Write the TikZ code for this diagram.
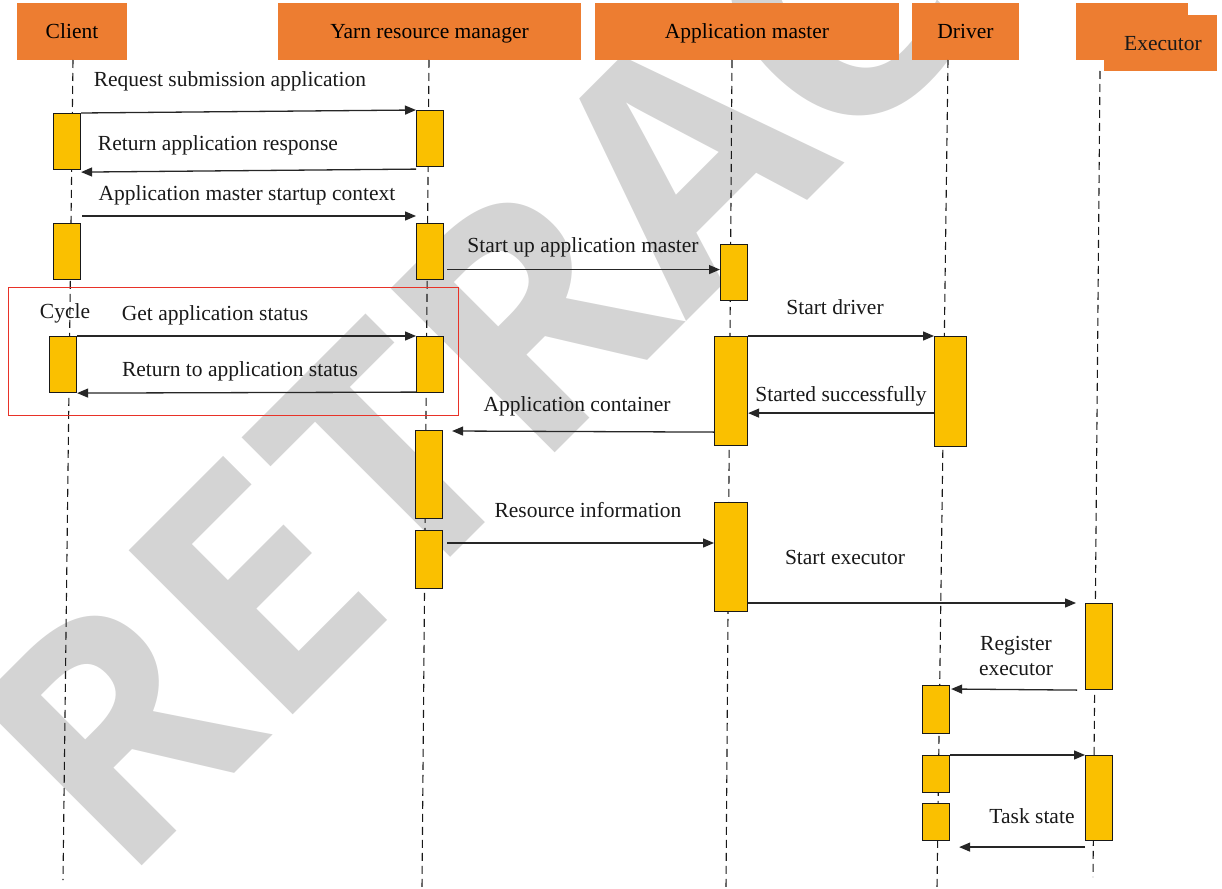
\documentclass[tikz,border=0pt]{standalone}
\usepackage{fontspec}
\setmainfont{Liberation Serif}
\newfontfamily\wmfont{Open Sans}
\usetikzlibrary{arrows.meta,calc}
\definecolor{hdr}{RGB}{237,125,49}
\definecolor{actc}{RGB}{250,192,0}
\definecolor{wmc}{RGB}{212,212,212}
\definecolor{cyc}{RGB}{232,50,40}
\tikzset{
  hdrbox/.style={fill=hdr, draw=none, minimum height=57pt, inner sep=0pt, text height=14.5pt, text depth=0pt, font=\fontsize{21.5}{25}\selectfont},
  actbox/.style={fill=actc, draw=black!90, line width=1.1pt, anchor=north west, inner sep=0pt, minimum width=27pt},
  lifeline/.style={draw=black!90, line width=1.1pt, dash pattern=on 8pt off 5pt},
  msg/.style={draw=black!85, line width=1.3pt, -{Triangle[length=11pt,width=9pt]}},
  lbl/.style={inner sep=0pt, font=\fontsize{21.5}{25}\selectfont, text=black!90},
  lblc/.style={lbl, text height=14.5pt, text depth=0pt},
}
\begin{document}
\begin{tikzpicture}[x=1pt,y=-1pt]
\useasboundingbox (0,0) rectangle (1222,888);
% watermark
\begin{scope}
\clip (0,0) rectangle (1222,888);
\node[rotate=45, anchor=base west, inner sep=0pt, text=wmc, font=\wmfont\bfseries\fontsize{325}{330}\selectfont] (wm) at (121,887) {RETRACTED};
\end{scope}
% headers
\node[hdrbox, minimum width=110pt] (hC) at (72,31.5) {Client};
\node[hdrbox, minimum width=303pt] (hY) at (429.5,31.5) {Yarn resource manager};
\node[hdrbox, minimum width=304pt] (hA) at (747,31.5) {Application master};
\node[hdrbox, minimum width=107pt] (hD) at (965.5,31.5) {Driver};
\node[hdrbox, minimum width=112pt] (hEb) at (1132,31.5) {};
\node[hdrbox, minimum width=113pt, minimum height=56pt] (hE) at (1160.5,43) {};
\node[lblc] (hEt) at (hE.center) {\hspace*{5pt}Executor};
% lifelines
\coordinate (lCt) at (73,60);   \coordinate (lCb) at (63,880);
\coordinate (lYt) at (429,60);  \coordinate (lYb) at (422,888);
\coordinate (lAt) at (732,60);  \coordinate (lAb) at (726,888);
\coordinate (lDt) at (948,60);  \coordinate (lDb) at (937,888);
\coordinate (lEt) at (1100,71); \coordinate (lEb) at (1093,877);
\draw[lifeline] (lCt) -- (lCb);
\draw[lifeline] (lYt) -- (lYb);
\draw[lifeline] (lAt) -- (lAb);
\draw[lifeline] (lDt) -- (lDb);
\draw[lifeline] (lEt) -- (lEb);
% cycle frame
\draw[cyc, line width=1pt] (8,287) rectangle (458,415);
% activations
\node[actbox, minimum height=56pt] (C1) at (53,113) {};
\node[actbox, minimum height=56pt] (C2) at (53,223) {};
\node[actbox, minimum height=56pt] (C3) at (49,336) {};
\node[actbox, minimum height=56pt] (Y1) at (416,110) {};
\node[actbox, minimum height=56pt] (Y2) at (416,223) {};
\node[actbox, minimum height=56pt] (Y3) at (416,336) {};
\node[actbox, minimum height=88pt] (Y4) at (415,430) {};
\node[actbox, minimum height=58pt] (Y5) at (415,530) {};
\node[actbox, minimum height=56pt] (A1) at (720,244) {};
\node[actbox, minimum width=33pt, minimum height=109pt] (A2) at (714,336) {};
\node[actbox, minimum width=33pt, minimum height=109pt] (A3) at (714,502) {};
\node[actbox, minimum width=32pt, minimum height=110pt] (D1) at (934,336) {};
\node[actbox, minimum height=48pt] (D2) at (922,685) {};
\node[actbox, minimum height=37pt] (D3) at (922,755) {};
\node[actbox, minimum height=37pt] (D4) at (922,803) {};
\node[actbox, minimum height=86pt] (E1) at (1085,603) {};
\node[actbox, minimum height=85pt] (E2) at (1085,755) {};
% messages
\draw[msg] (C1.north east) -- (Y1.north west);
\draw[msg] ($(Y1.south west)+(0,2)$) -- ($(C1.south east)+(0,2)$);
\draw[msg] ($(C2.north east)+(1,-7)$) -- ($(Y2.north west)+(0,-7)$);
\draw[msg] ($(Y2.east |- A1.west)+(3,-3)$) -- ($(A1.west)+(0,-3)$);
\draw[msg] (C3.north east) -- (Y3.north west);
\draw[msg] ($(Y3.south west)+(0,-1)$) -- (C3.south east);
\draw[msg] (A2.north east) -- (D1.north west);
\draw[msg] ($(D1.south west)+(0,-34)$) -- ($(A2.south east)+(0,-33)$);
\draw[msg] ($(A2.south west)+(0,-14)$) -- ($(Y4.north east)+(9,1)$);
\draw[msg] ($(Y5.north east)+(4,13)$) -- ($(A3.north west)+(0,41)$);
\draw[msg] ($(A3.north east)+(0,101)$) -- ($(E1.north west)+(-9,0)$);
\draw[msg] ($(E1.south west)+(-8,0)$) -- ($(D2.north east)+(1,4)$);
\draw[msg] (D3.north east) -- (E2.north west);
\draw[msg] ($(E2.south west)+(0,6)$) -- ($(D4.south east)+(9,6)$);
% labels
\node[lblc] (t1) at (230,79) {Request submission application};
\node[lblc] (t2) at (218,143) {Return application response};
\node[lblc] (t3) at (247,193) {Application master startup context};
\node[lblc] (t4) at (583,245) {Start up application master};
\node[lblc] (t5) at (65,311) {Cycle};
\node[lblc] (t6) at (215,313) {Get application status};
\node[lblc] (t7) at (240,369) {Return to application status};
\node[lblc] (t8) at (835,307) {Start driver};
\node[lblc] (t9) at (841,394) {Started successfully};
\node[lblc] (t10) at (577,404) {Application container};
\node[lblc] (t11) at (588,510) {Resource information};
\node[lblc] (t12) at (845,557) {Start executor};
\node[lbl, align=center] (t13) at (1016,656) {Register\\executor};
\node[lblc] (t14) at (1032,816) {Task state};
\end{tikzpicture}
\end{document}
